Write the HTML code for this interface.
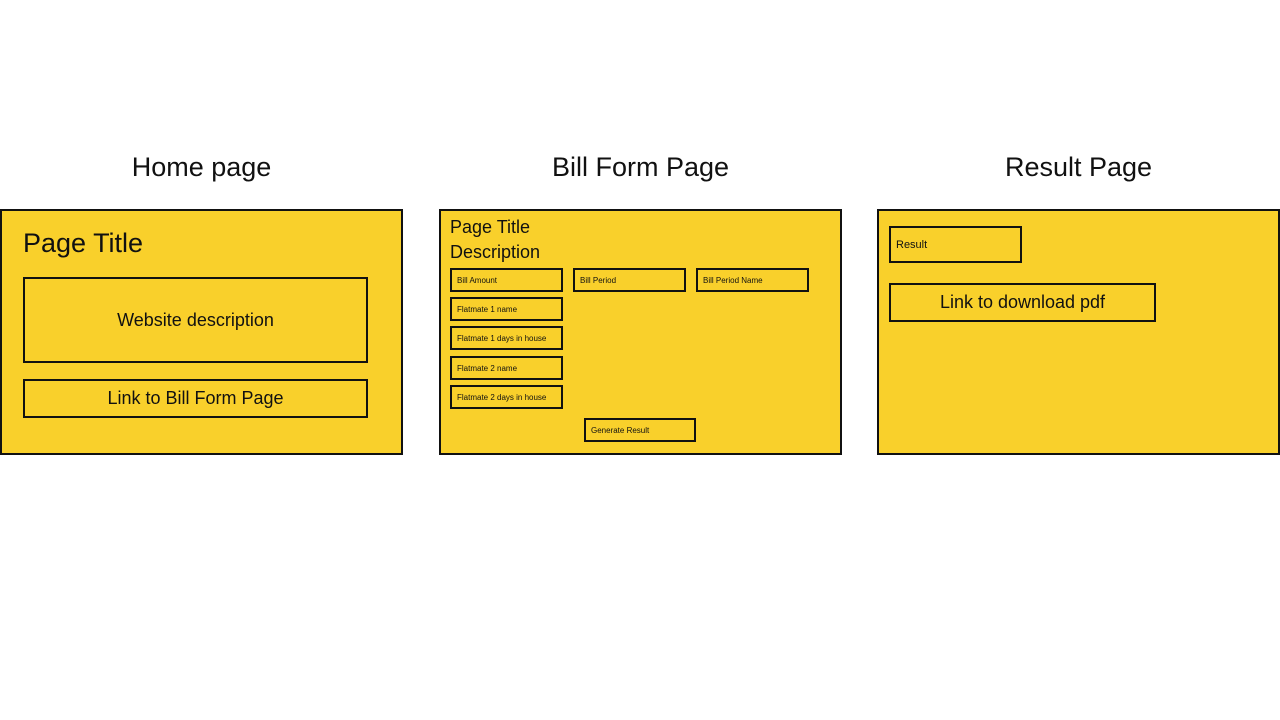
<!DOCTYPE html>
<html><head><meta charset="utf-8"><style>
body{margin:0;width:1280px;height:720px;background:#fff;position:relative;overflow:hidden;font-family:"Liberation Sans",sans-serif;color:#111}
div{position:absolute;box-sizing:border-box}
.f{background:#f9d02b;border:2px solid #111;top:209px;height:246px;width:403px}
.b{border:2px solid #111;display:flex;align-items:center}
.c{justify-content:center}
.s{font-size:8px;padding-left:5px}
.h{font-size:27px;top:152px;width:403px;text-align:center}
</style></head><body>
<div class="h" style="left:0">Home page</div>
<div class="h" style="left:439px">Bill Form Page</div>
<div class="h" style="left:877px">Result Page</div>

<div class="f" style="left:0"></div>
<div style="left:23px;top:228px;font-size:27px">Page Title</div>
<div class="b c" style="left:23px;top:277px;width:345px;height:86px;font-size:18px">Website description</div>
<div class="b c" style="left:23px;top:379px;width:345px;height:39px;font-size:18px">Link to Bill Form Page</div>

<div class="f" style="left:439px"></div>
<div style="left:450px;top:217px;font-size:18px">Page Title</div>
<div style="left:450px;top:242px;font-size:18px">Description</div>
<div class="b s" style="left:450px;top:268px;width:113px;height:24px">Bill Amount</div>
<div class="b s" style="left:573px;top:268px;width:113px;height:24px">Bill Period</div>
<div class="b s" style="left:696px;top:268px;width:113px;height:24px">Bill Period Name</div>
<div class="b s" style="left:450px;top:297px;width:113px;height:24px">Flatmate 1 name</div>
<div class="b s" style="left:450px;top:326px;width:113px;height:24px">Flatmate 1 days in house</div>
<div class="b s" style="left:450px;top:356px;width:113px;height:24px">Flatmate 2 name</div>
<div class="b s" style="left:450px;top:385px;width:113px;height:24px">Flatmate 2 days in house</div>
<div class="b s" style="left:584px;top:418px;width:112px;height:24px">Generate Result</div>

<div class="f" style="left:877px"></div>
<div class="b" style="left:889px;top:226px;width:133px;height:37px;font-size:11px;padding-left:5px">Result</div>
<div class="b c" style="left:889px;top:283px;width:267px;height:39px;font-size:18px">Link to download pdf</div>
</body></html>
